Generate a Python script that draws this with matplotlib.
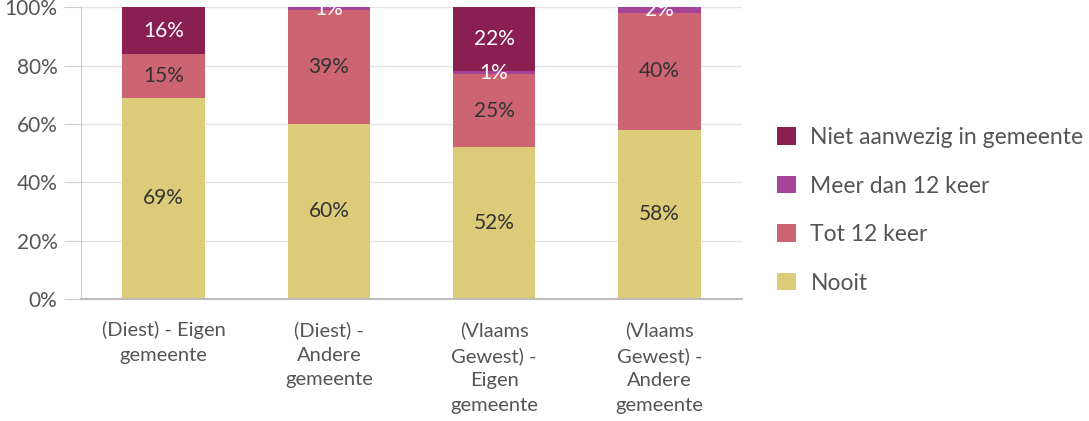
import matplotlib.pyplot as plt
import matplotlib.ticker as ticker
import numpy as np

categories = ["(Diest) - Eigen\ngemeente", "(Diest) -\nAndere\ngemeente",
              "(Vlaams\nGewest) -\nEigen\ngemeente", "(Vlaams\nGewest) -\nAndere\ngemeente"]
series_names = ["Nooit", "Tot 12 keer", "Meer dan 12 keer", "Niet aanwezig in gemeente"]
nooit = [69, 60, 52, 58]
tot_12 = [15, 39, 25, 40]
meer_12 = [0, 1, 1, 2]
niet_aanwezig = [16, 0, 22, 0]

colors = ["#DCCB78", "#CD6472", "#A6449A", "#8A2052"]
label_colors = ["#333333", "#333333", "white", "white"]

plt.rcParams['font.family'] = ['Lato', 'DejaVu Sans']

fig = plt.figure(figsize=(10.89, 4.21), dpi=100)
ax = fig.add_axes([81 / 1089, 1 - 299 / 421, (742 - 81) / 1089, (299 - 7.3) / 421])

x = np.arange(len(categories))
bottom = np.zeros(len(categories))
for vals, name, c, lc in zip([nooit, tot_12, meer_12, niet_aanwezig], series_names, colors, label_colors):
    vals = np.array(vals, dtype=float)
    ax.bar(x, vals, 0.5, bottom=bottom, color=c, label=name, zorder=2)
    for xi, b, v in zip(x, bottom, vals):
        if v > 0:
            ax.text(xi, b + v / 2, f"{v:.0f}%", ha="center", va="center",
                    fontsize=15, color=lc, zorder=3)
    bottom += vals

ax.set_xlim(-0.5, 3.5)
ax.set_ylim(0, 100)
ax.yaxis.set_major_locator(ticker.MultipleLocator(20))
ax.yaxis.set_major_formatter(ticker.FuncFormatter(lambda v, p: f"{v:.0f}%"))
ax.grid(axis="y", color="#e3e3e3", lw=1, zorder=0)
ax.set_xticks(x)
ax.set_xticklabels(categories, fontsize=14.5, color="#555555", linespacing=1.53)
ax.tick_params(axis="x", length=0, pad=16)
ax.tick_params(axis="y", length=12, color="#cccccc", labelsize=15, labelcolor="#555555", pad=5)
for s in ["top", "right"]:
    ax.spines[s].set_visible(False)
ax.spines["left"].set_color("#cccccc")
ax.spines["bottom"].set_color("#bbbbbb")
ax.spines["bottom"].set_linewidth(1.5)

handles, labels = ax.get_legend_handles_labels()
leg = fig.legend(handles[::-1], labels[::-1], loc="upper left", bbox_to_anchor=(768 / 1089, 1 - 118 / 421),
                 frameon=False, fontsize=16.5, labelcolor="#555555", handlelength=0.8, handleheight=0.8,
                 handletextpad=0.65, labelspacing=1.2, borderaxespad=0)

fig.savefig("out.png", dpi=100)
